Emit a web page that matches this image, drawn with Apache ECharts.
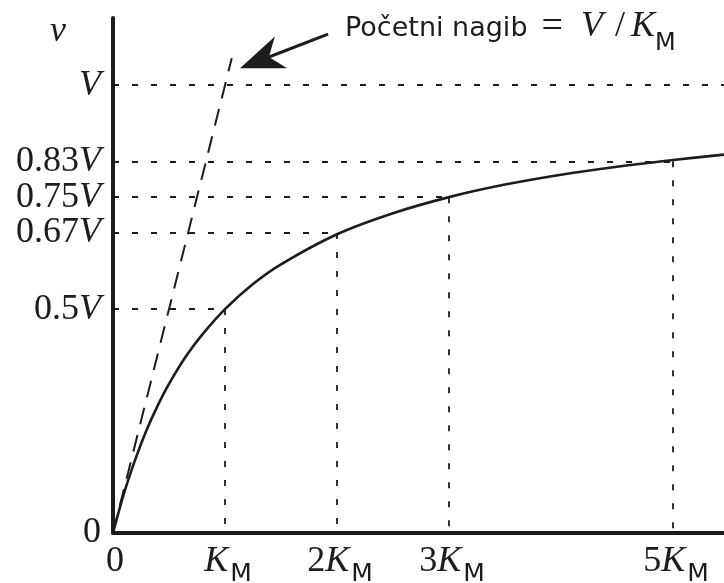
<!DOCTYPE html>
<html><head><meta charset="utf-8">
<script src="https://cdn.jsdelivr.net/npm/echarts@6/dist/echarts.min.js"></script>
<style>html,body{margin:0;padding:0;background:#fff}#c{width:724px;height:583px}</style>
</head><body><div id="c"></div>
<script>
// Michaelis–Menten curve values (x in K_M units, y in V units)
const curveX = [0, 0.1, 0.2, 0.3, 0.4, 0.5, 0.65, 0.8, 1, 1.25, 1.5, 2, 2.5, 3, 3.5, 4, 4.5, 5, 5.455];
const curveY = [0, 0.09, 0.165, 0.23, 0.285, 0.333, 0.394, 0.444, 0.5, 0.556, 0.6, 0.667, 0.714, 0.75, 0.778, 0.8, 0.818, 0.833, 0.845];
// initial slope (dashed) line
const slopeX = [0, 1.06];
const slopeY = [0, 1.06];
// ticks
const xTickValues = [0, 1, 2, 3, 5];
const xTickLabels = ['0', 'K_M', '2K_M', '3K_M', '5K_M'];
const yTickValues = [0, 0.5, 0.67, 0.75, 0.83, 1];
const yTickLabels = ['0', '0.5V', '0.67V', '0.75V', '0.83V', 'V'];
// guide (dotted) points
const guidePoints = [[1, 0.5], [2, 0.67], [3, 0.75], [5, 0.83]];
const vLevel = 1;
// annotation arrow (data units)
const arrowTail = [1.92, 1.114];
const arrowEnd = [1.317, 1.0556];
const xMax = 5.455, yMax = 1.15;

const SERIF = 'Liberation Serif';
const SANS = 'DejaVu Sans';
const INK = '#1c1c1c';

const labelRich = {
  n: { fontFamily: SERIF, fontSize: 36, fontWeight: 'normal', color: INK, lineHeight: 40 },
  i: { fontFamily: SERIF, fontSize: 36, fontWeight: 'normal', fontStyle: 'italic', color: INK, lineHeight: 40 },
  s: { fontFamily: SANS, fontSize: 25, fontWeight: 'normal', color: INK, lineHeight: 25, padding: [25, 0, 0, 2] }
};

function xFmt(v) {
  const idx = xTickValues.indexOf(v);
  if (idx < 0) return '';
  const t = xTickLabels[idx];
  if (t.indexOf('K_M') < 0) return '{n|' + t + '}{s|\u200b}';
  const pre = t.replace('K_M', '');
  return (pre ? '{n|' + pre + '}' : '') + '{i|K}{s|M}';
}
function yFmt(v) {
  const idx = yTickValues.indexOf(v);
  if (idx < 0) return '';
  const t = yTickLabels[idx];
  if (t === 'V') return '{i|V}';
  if (t.endsWith('V')) return '{n|' + t.slice(0, -1) + '}{i|V}';
  return '{n|' + t + '}';
}

const dotted = { color: INK, width: 1.8, type: [6, 13] };
const guideLines = [];
guidePoints.forEach(p => {
  guideLines.push([{ coord: [0, p[1]] }, { coord: [p[0], p[1]] }]);
  guideLines.push([{ coord: [p[0], p[1]] }, { coord: [p[0], 0] }]);
});
guideLines.push([{ coord: [0, vLevel] }, { coord: [xMax, vLevel] }]);

const chart = echarts.init(document.getElementById('c'), null, { renderer: 'canvas' });
chart.setOption({
  animation: false,
  backgroundColor: '#fff',
  title: [
    {
      text: '{i|v}', left: 50, top: 12, padding: 0,
      textStyle: { fontWeight: 'normal', rich: { i: { fontFamily: SERIF, fontSize: 36, fontWeight: 'normal', fontStyle: 'italic', color: INK, lineHeight: 40 } } }
    },
    {
      text: '{s|Početni nagib}{eq|=}{i|V}{sl|/}{i|K}{sub|M}', left: 345, top: 7, padding: 0,
      textStyle: {
        fontWeight: 'normal',
        rich: {
          s: { fontFamily: SANS, fontSize: 27, fontWeight: 'normal', color: INK, lineHeight: 30, padding: [3, 0, 0, 0] },
          eq: { fontFamily: SERIF, fontSize: 38, fontWeight: 'normal', color: INK, lineHeight: 40, padding: [0, 18, 0, 14] },
          i: { fontFamily: SERIF, fontSize: 36, fontWeight: 'normal', fontStyle: 'italic', color: INK, lineHeight: 40 },
          sl: { fontFamily: SERIF, fontSize: 36, fontWeight: 'normal', color: INK, lineHeight: 40, padding: [0, 6, 0, 12] },
          sub: { fontFamily: SANS, fontSize: 24, fontWeight: 'normal', color: INK, lineHeight: 24, padding: [34, 0, 0, 0] }
        }
      }
    }
  ],
  grid: { left: 113, right: 0, top: 18, bottom: 50, containLabel: false, outerBoundsMode: 'none' },
  xAxis: {
    type: 'value', min: 0, max: xMax,
    axisLine: { show: true, lineStyle: { color: INK, width: 4 } },
    axisTick: { show: false },
    splitLine: { show: false },
    axisLabel: { customValues: xTickValues, formatter: xFmt, margin: 9, padding: [0, 0, 0, 6], rich: labelRich }
  },
  yAxis: {
    type: 'value', min: 0, max: yMax,
    axisLine: { show: true, lineStyle: { color: INK, width: 4 } },
    axisTick: { show: false },
    splitLine: { show: false },
    axisLabel: { customValues: yTickValues, formatter: yFmt, margin: 12, rich: labelRich }
  },
  series: [
    {
      type: 'line', name: 'guides', data: [], silent: true, z: 1,
      markLine: {
        silent: true, symbol: 'none', animation: false,
        label: { show: false },
        lineStyle: dotted,
        emphasis: { disabled: true },
        data: guideLines
      }
    },
    {
      type: 'line', name: 'slope', silent: true, z: 2,
      data: slopeX.map((x, i) => [x, slopeY[i]]),
      showSymbol: false, symbol: 'none',
      lineStyle: { color: INK, width: 2, type: [17, 11] }
    },
    {
      type: 'line', name: 'v', silent: true, z: 3,
      data: curveX.map((x, i) => [x, curveY[i]]),
      smooth: 0.3, showSymbol: false, symbol: 'none',
      lineStyle: { color: INK, width: 2.6 }
    },
    {
      type: 'line', name: 'arrow', data: [], silent: true, z: 4,
      markLine: {
        silent: true, animation: false,
        symbol: ['none', 'path://M0,0L17,44L0,31L-17,44Z'],
        symbolSize: [34, 44],
        label: { show: false },
        lineStyle: { color: INK, width: 3.2, type: 'solid' },
        itemStyle: { color: INK },
        emphasis: { disabled: true },
        data: [[{ coord: arrowTail }, { coord: arrowEnd }]]
      }
    }
  ]
});
</script></body></html>
